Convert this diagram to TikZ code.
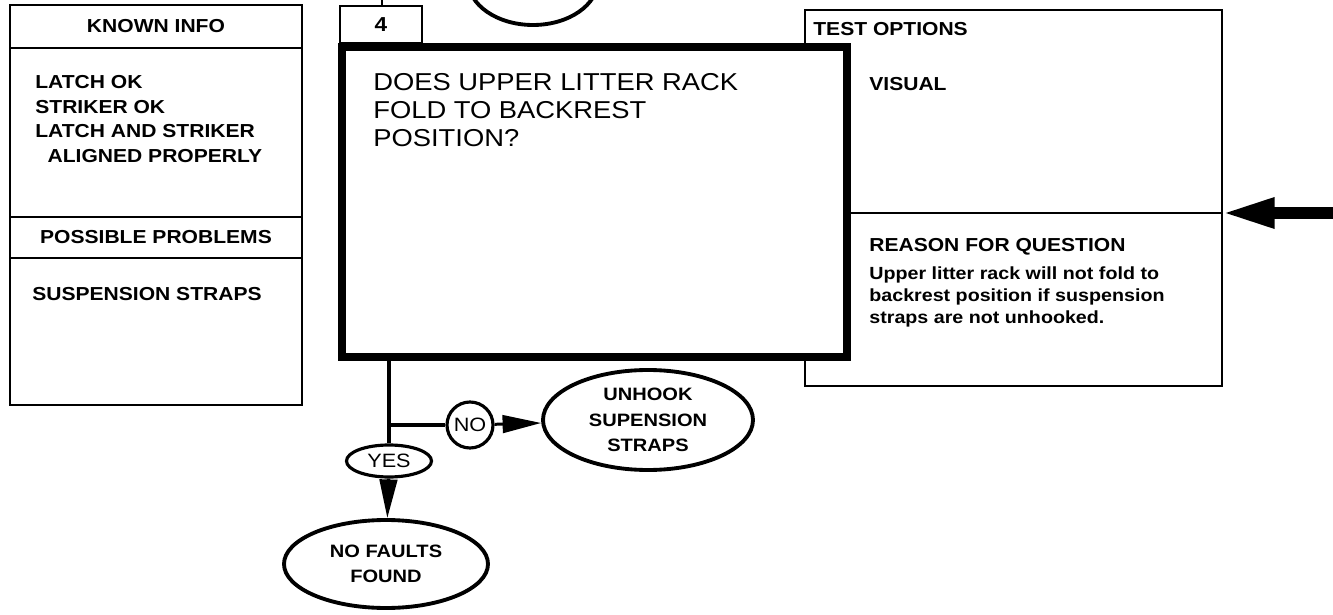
\documentclass[tikz,border=0pt]{standalone}
\usepackage{fontspec}
\setmainfont{Liberation Sans}[FakeStretch=1.12]
\usetikzlibrary{arrows.meta, positioning, shapes.geometric}

\begin{document}
\begin{tikzpicture}[
    x=0.02cm, y=-0.02cm,
    sz/.style 2 args={minimum width=#1*0.02cm, minimum height=#2*0.02cm},
    panel/.style={draw, line width=1.6pt, anchor=north west, inner sep=0pt,
                  outer sep=0pt, fill=white},
    hd/.style={font=\bfseries\fontsize{10.7}{12}\selectfont},
    lst/.style={anchor=north west, inner sep=0pt, align=left,
                font=\bfseries\fontsize{10.7}{14}\selectfont},
    term/.style={draw, ellipse, line width=2.2pt, inner sep=0pt, align=center,
                 font=\bfseries\fontsize{10.2}{14.5}\selectfont},
    tag/.style={draw, line width=1.8pt, inner sep=0pt,
                font=\fontsize{11}{12}\selectfont},
    arr/.style={-{Triangle[length=22pt,width=10pt]}, line width=1.7pt},
    bigarr/.style={-{Triangle[length=30pt,width=16pt]}, line width=6.5pt}
  ]
  \useasboundingbox (0,0) rectangle (1333,615);
  \clip (0,0) rectangle (1333,615);

  % known info / possible problems
  \node[panel, hd, sz={292}{43}]  (knownhd) at (10,5)   {KNOWN INFO};
  \node[panel, sz={292}{169}]     (knownbd) at (10,48)  {};
  \node[panel, hd, sz={292}{41}]  (probhd)  at (10,217) {POSSIBLE PROBLEMS};
  \node[panel, sz={292}{147}]     (probbd)  at (10,258) {};
  \node[lst] (knownlst) at (35,75)
    {LATCH OK\\STRIKER OK\\LATCH AND STRIKER\\\hspace*{7pt}ALIGNED PROPERLY};
  \node[lst] (problst) at (32,287) {SUSPENSION STRAPS};

  % test options / reason
  \node[panel, sz={417}{376}] (test) at (805,10) {};
  \coordinate (junct) at (test.east |- 0,213);
  \node[lst] (testhd) at (813,22) {TEST OPTIONS};
  \node[lst] (testlst) at (869,77) {VISUAL};
  \node[lst] (reasonhd) at (869,238) {REASON FOR QUESTION};
  \node[lst, font=\bfseries\fontsize{10}{12.5}\selectfont] (reason) at (869,266)
    {Upper litter rack will not fold to\\backrest position if suspension\\straps are not unhooked.};

  % question
  \node[panel, hd, font=\bfseries\fontsize{11.5}{12}\selectfont, sz={82}{37}] (tab) at (340,6) {4};
  \node[panel, line width=5pt, sz={505}{310}] (quest) at (342,47) {};
  \node[anchor=north west, inner sep=0pt, align=left,
        font=\fontsize{13.9}{16}\selectfont] (qtxt) at (373,73)
    {DOES UPPER LITTER RACK\\FOLD TO BACKREST\\POSITION?};
  \draw[line width=1.6pt] (quest.east |- junct) -- (junct);

  \node[term, sz={130}{90}] (prev) at (533,-20) {};
  \coordinate (topin) at (382,-5);
  \draw[line width=1.6pt] (topin) -- (tab.north -| topin);

  % answers
  \node[tag, ellipse, sz={85}{32}] (yes) at (389,461) {YES};
  \node[tag, circle, minimum size=46*0.02cm] (no) at (470,425) {NO};
  \node[term, sz={210}{100}] (unhook) at (648,420) {UNHOOK\\SUPENSION\\STRAPS};
  \node[term, sz={204}{88}] (nofault) at (386,564) {NO FAULTS\\FOUND};
  \draw[line width=1.8pt] (quest.south -| yes.north) -- (yes.north);
  \draw[line width=1.8pt] (yes.north |- no) -- (no);
  \draw[arr] (no) -- (unhook);
  \draw[arr] (yes) -- (nofault);
  \coordinate (rin) at (1345,213);
  \draw[bigarr] (rin) -- (junct);
\end{tikzpicture}
\end{document}
